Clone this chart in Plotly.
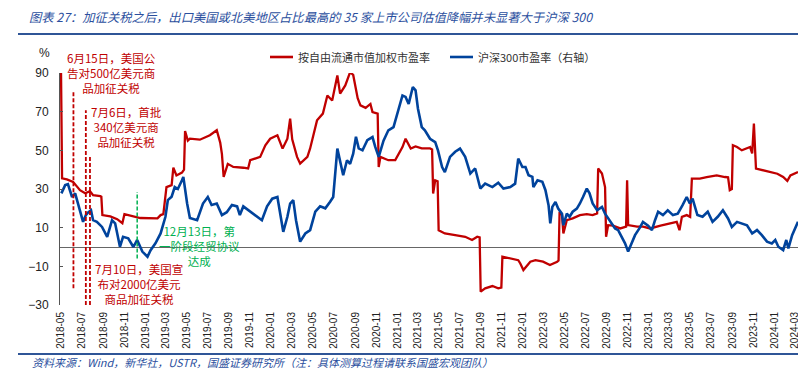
import plotly.graph_objects as go

# ---------------- data ----------------
red_dates = ["2018-05-01","2018-05-04","2018-05-18","2018-06-05","2018-06-25","2018-07-10","2018-07-24",
 "2018-08-02","2018-08-23","2018-08-26","2018-08-29","2018-09-21","2018-10-11","2018-10-26","2018-11-01",
 "2018-11-27","2018-12-17","2019-02-05","2019-02-14","2019-02-22","2019-03-03","2019-03-18","2019-03-23",
 "2019-04-01","2019-04-17","2019-04-23","2019-04-26","2019-05-04","2019-05-10","2019-06-08","2019-07-07",
 "2019-07-27","2019-08-06","2019-08-11","2019-08-16","2019-08-28","2019-09-13","2019-10-12","2019-10-26",
 "2019-11-01","2019-11-30","2019-12-15","2019-12-29","2020-01-19","2020-02-03","2020-02-17","2020-02-25",
 "2020-03-02","2020-03-16","2020-03-25","2020-04-15","2020-04-23","2020-05-13","2020-05-30","2020-06-12",
 "2020-06-26","2020-07-11","2020-07-19","2020-08-03","2020-08-17","2020-08-26","2020-09-08","2020-09-16",
 "2020-10-01","2020-10-15","2020-10-21","2020-11-05","2020-11-08","2020-11-13","2020-12-06","2020-12-26",
 "2021-01-16","2021-01-25","2021-02-09","2021-02-23","2021-03-13","2021-04-06","2021-04-12","2021-04-15",
 "2021-04-21","2021-04-28","2021-05-01","2021-05-19","2021-06-18","2021-07-17","2021-08-06","2021-08-21",
 "2021-08-28","2021-08-31","2021-09-13","2021-10-04","2021-10-21","2021-10-30","2021-11-02","2021-12-01",
 "2021-12-18","2021-12-24","2022-01-02","2022-01-22","2022-02-06","2022-02-28","2022-03-20","2022-04-10",
 "2022-04-14","2022-04-17","2022-04-24","2022-04-28","2022-05-08","2022-05-25","2022-06-15","2022-07-05",
 "2022-07-22","2022-08-04","2022-08-07","2022-08-18","2022-08-27","2022-08-30","2022-09-05","2022-09-19",
 "2022-10-10","2022-10-27","2022-10-30","2022-11-02","2022-11-28","2022-12-15","2023-01-05","2023-02-04",
 "2023-03-03","2023-03-23","2023-03-31","2023-04-07","2023-04-21","2023-05-01","2023-05-06","2023-05-29",
 "2023-06-18","2023-07-17","2023-08-10","2023-08-19","2023-08-24","2023-08-30","2023-09-02","2023-09-14",
 "2023-09-28","2023-10-13","2023-10-22","2023-10-28","2023-11-02","2023-11-08","2023-11-28","2023-12-24",
 "2024-01-09","2024-01-26","2024-02-07","2024-02-16","2024-03-09"]
red_pe = [90,35.5,35,33.7,29.4,27.8,28.9,
 26.8,26.3,26,16.5,15.8,14.4,12.3,17,
 15.9,15,14.8,16.5,17,31,32,41,
 37,38.5,40,60,55,56,55.5,57.8,
 60.4,54,48,36.2,43,41.4,41,40.6,
 44.9,46.6,52.6,56,57.8,50.9,56,66.4,
 55.7,46.6,43.2,46.6,51,65.5,69,78.4,
 75.8,88.7,79.3,83.6,90.4,89,77,73.3,
 72,74,69.8,69,41.4,46.6,44.9,45,
 51.7,56,50.9,52,51,51,50.5,27.7,
 34.5,34,8.7,7,6.1,5.3,3.6,5.3,
 5,-23.1,-21.4,-20.2,-21.4,-21,-5,-5.9,
 -6.8,-8.5,-11.9,-7.6,-6.8,-7.6,-9.3,-7.6,
 -7,18.2,16.6,7,13.9,14.8,16.5,17,
 16.5,17.4,40.6,38,31,5.3,11.3,11,
 9.6,10.5,34.5,11.3,10.5,10.5,9.6,11,
 12.2,13,8.7,15.6,16.5,15.6,35.4,35.4,
 36.2,37,36.2,36,29.4,30,52.6,51.7,
 50,51,51.7,48.4,63.8,40.6,39.7,38.8,
 37.9,36.2,34.2,37,38.8]

blue_dates = ["2018-05-02","2018-05-13","2018-05-21","2018-06-02","2018-06-11","2018-06-19","2018-07-04",
 "2018-07-12","2018-07-18","2018-07-27","2018-08-02","2018-08-13","2018-08-28","2018-09-12","2018-09-26",
 "2018-10-05","2018-10-19","2018-10-28","2018-11-12","2018-11-27","2018-12-08","2018-12-23","2019-01-07",
 "2019-01-16","2019-01-30","2019-02-14","2019-02-28","2019-03-07","2019-03-18","2019-03-27","2019-04-05",
 "2019-04-17","2019-04-21","2019-05-02","2019-05-10","2019-05-31","2019-06-17","2019-07-01","2019-07-12",
 "2019-07-27","2019-08-11","2019-08-25","2019-09-09","2019-09-24","2019-10-02","2019-10-12","2019-11-01",
 "2019-11-21","2019-12-05","2019-12-20","2020-01-04","2020-01-19","2020-01-27","2020-02-05","2020-02-17",
 "2020-02-25","2020-03-05","2020-03-13","2020-03-25","2020-04-09","2020-04-23","2020-05-08","2020-05-22",
 "2020-06-06","2020-06-20","2020-06-29","2020-07-11","2020-07-19","2020-07-28","2020-08-08","2020-08-17",
 "2020-08-26","2020-09-03","2020-09-11","2020-09-22","2020-10-06","2020-10-21","2020-10-29","2020-11-08",
 "2020-11-22","2020-12-06","2020-12-21","2021-01-04","2021-01-16","2021-01-25","2021-02-03","2021-02-15",
 "2021-02-23","2021-03-02","2021-03-13","2021-03-22","2021-04-06","2021-04-21","2021-04-29","2021-05-11",
 "2021-05-19","2021-06-03","2021-06-18","2021-07-02","2021-07-17","2021-08-01","2021-08-15","2021-08-30",
 "2021-09-13","2021-10-04","2021-10-21","2021-11-05","2021-11-25","2021-12-09","2021-12-18","2021-12-30",
 "2022-01-08","2022-01-17","2022-01-28","2022-01-31","2022-02-12","2022-02-26","2022-03-07","2022-03-16",
 "2022-03-21","2022-03-27","2022-04-05","2022-04-13","2022-04-24","2022-04-28","2022-05-08","2022-05-16",
 "2022-05-25","2022-06-06","2022-06-15","2022-06-24","2022-07-05","2022-07-13","2022-07-22","2022-08-04",
 "2022-08-18","2022-08-27","2022-09-05","2022-09-16","2022-09-25","2022-10-04","2022-10-15","2022-10-24",
 "2022-11-02","2022-11-14","2022-11-22","2022-12-06","2022-12-15","2022-12-30","2023-01-10","2023-01-19",
 "2023-01-28","2023-02-11","2023-02-25","2023-03-12","2023-03-26","2023-04-09","2023-04-21","2023-04-30",
 "2023-05-08","2023-05-22","2023-06-06","2023-06-21","2023-07-05","2023-07-20","2023-08-04","2023-08-19",
 "2023-08-30","2023-09-14","2023-09-28","2023-10-13","2023-10-28","2023-11-11","2023-11-25","2023-12-10",
 "2023-12-24","2024-01-03","2024-01-12","2024-01-26","2024-02-04","2024-02-10","2024-02-21","2024-03-01",
 "2024-03-09"]
blue_pe = [12.62,12.96,13.0,12.47,12.62,12.2,11.44,
 11.72,11.82,11.92,11.51,11.44,11.23,10.82,11.51,
 11.38,10.41,10.82,10.76,10.4,10.69,10.21,10.0,
 10.27,10.55,10.96,11.65,12.34,12.48,12.88,12.8,
 13.16,13.3,12.2,11.6,11.51,12.2,12.47,12.14,
 12.2,11.72,11.84,12.14,12.08,11.72,12.08,11.86,
 11.65,11.51,12.08,12.4,12.47,11.78,11.03,11.65,
 12.2,12.34,11.51,10.62,10.96,11.1,11.86,12.08,
 12.0,12.27,12.47,14.47,13.99,13.37,13.99,13.84,
 14.26,14.96,14.48,14.4,14.82,14.95,14.54,14.13,
 14.8,15.23,15.36,16.06,16.67,16.61,16.32,17.02,
 16.88,16.12,15.36,15.23,14.88,14.74,14.4,13.71,
 13.5,14.13,14.34,14.47,14.13,13.44,13.65,12.82,
 13.02,12.88,13.06,12.82,12.88,13.02,14.06,13.71,
 13.71,13.37,13.3,12.88,13.16,13.1,12.75,12.13,
 11.38,12.06,12.26,11.99,11.78,11.3,11.78,11.65,
 11.86,11.99,12.2,12.47,12.82,12.62,12.2,11.92,
 12.06,11.78,11.58,11.38,11.17,11.1,10.82,10.55,
 10.21,10.62,10.89,11.2,11.44,11.28,11.1,11.51,
 11.86,11.72,11.92,11.72,11.78,12.13,12.47,12.2,
 12.4,11.72,11.65,11.86,11.44,11.65,11.92,11.58,
 11.23,11.44,11.38,11.3,10.96,11.1,10.89,10.62,
 10.55,10.69,10.41,10.27,10.69,10.34,10.89,11.17,
 11.44]

tick_dates = ["2018-05-01","2018-07-01","2018-09-01","2018-11-01","2019-01-01","2019-03-01","2019-05-01",
 "2019-07-01","2019-09-01","2019-11-01","2020-01-01","2020-03-01","2020-05-01","2020-07-01","2020-09-01",
 "2020-11-01","2021-01-01","2021-03-01","2021-05-01","2021-07-01","2021-09-01","2021-11-01","2022-01-01",
 "2022-03-01","2022-05-01","2022-07-01","2022-09-01","2022-11-01","2023-01-01","2023-03-01","2023-05-01",
 "2023-07-01","2023-09-01","2023-11-01","2024-01-01","2024-03-01"]
tick_labels = [d[:7] for d in tick_dates]
y_ticks = [-30, -10, 10, 30, 50, 70, 90]

series_names = ["按自由流通市值加权市盈率", "沪深300市盈率（右轴）"]

# event markers: date, top value, bottom value
event_dates = ["2018-06-06", "2018-07-12", "2018-07-24", "2018-12-08"]
event_top = [80, 70.7, 47.5, 28.5]
event_bottom = [-21.3, -30, -30, -5.9]
event_colors = ["#C00000", "#C00000", "#C00000", "#00B050"]

event_texts = ["6月15日，美国公<br>告对500亿美元商<br>品加征关税",
               "7月6日，首批<br>340亿美元商<br>品加征关税",
               "7月10日，美国宣<br>布对2000亿美元<br>商品加征关税",
               "12月13日，第<br>一阶段经贸协议<br>达成"]
text_x = ["2018-09-24", "2018-11-07", "2018-12-14", "2019-06-06"]
text_y = [89.9, 61.9, -19.2, 0.5]
text_colors = ["#C00000", "#C00000", "#C00000", "#00B050"]

RED = "#C00000"
BLUE = "#00439C"
CJK = "Noto Sans CJK SC"
LAT = "Liberation Sans, Arial"

fig = go.Figure()
fig.add_trace(go.Scatter(x=red_dates, y=red_pe, mode="lines", name=series_names[0],
                         line=dict(color=RED, width=2.3), yaxis="y"))
fig.add_trace(go.Scatter(x=blue_dates, y=blue_pe, mode="lines", name=series_names[1],
                         line=dict(color=BLUE, width=2.6), yaxis="y2"))

for d, t, b, c in zip(event_dates, event_top, event_bottom, event_colors):
    fig.add_shape(type="line", xref="x", yref="y", x0=d, x1=d, y0=b, y1=t,
                  line=dict(color=c, width=1.8 if c == RED else 1.5, dash="4px,2px"))

for tx, xx, yy, c in zip(event_texts, text_x, text_y, text_colors):
    fig.add_annotation(x=xx, y=yy, xref="x", yref="y", text=tx, showarrow=False,
                       font=dict(family=CJK, size=11.5, color=c), align="center",
                       xanchor="center", yanchor="middle")

W, H = 798, 390
L, R, T, B = 60, 0, 73, 85
pw, ph = W - L - R, H - T - B
def px(x):
    return (x - L) / pw
def py(y):
    return (H - B - y) / ph

# header / footer rules
fig.add_shape(type="line", xref="paper", yref="paper", x0=px(18), x1=1, y0=py(34), y1=py(34),
              line=dict(color="#2F5597", width=2))
fig.add_shape(type="line", xref="paper", yref="paper", x0=px(18), x1=1, y0=py(354), y1=py(354),
              line=dict(color="#2F5597", width=2))

# legend (drawn manually so it does not push the margins)
leg_x = [270, 450]
leg_cols = [RED, BLUE]
for lx, nm, c in zip(leg_x, series_names, leg_cols):
    fig.add_shape(type="line", xref="paper", yref="paper", x0=px(lx), x1=px(lx + 23),
                  y0=py(57), y1=py(57), line=dict(color=c, width=2.6))
    fig.add_annotation(xref="paper", yref="paper", x=px(lx + 26), y=py(57), xanchor="left",
                       yanchor="middle", text=nm, showarrow=False,
                       font=dict(family=CJK, size=11, color="#333"))

fig.add_annotation(xref="paper", yref="paper", x=px(27), y=py(17), xanchor="left", yanchor="middle",
                   text="<i>图表 27：加征关税之后，出口美国或北美地区占比最高的 35 家上市公司估值降幅并未显著大于沪深 300</i>",
                   showarrow=False, font=dict(family=CJK, size=12.3, color="#2B4F9E"))
fig.add_annotation(xref="paper", yref="paper", x=px(30), y=py(362), xanchor="left", yanchor="middle",
                   text="<i>资料来源：Wind，新华社，USTR，国盛证券研究所（注：具体测算过程请联系国盛宏观团队）</i>",
                   showarrow=False, font=dict(family=CJK, size=11, color="#2B4F9E"))
fig.add_annotation(xref="paper", yref="paper", x=px(44), y=py(53), xanchor="center", yanchor="middle",
                   text="%", showarrow=False, font=dict(family=LAT, size=12, color="#222"))

fig.update_layout(
    width=W, height=H, margin=dict(l=L, r=R, t=T, b=B, autoexpand=False),
    paper_bgcolor="white", plot_bgcolor="white",
    showlegend=False,
    xaxis=dict(type="date", range=["2018-04-28", "2024-03-09"], tickmode="array",
               tickvals=tick_dates, ticktext=tick_labels, tickangle=-90, automargin=False,
               tickfont=dict(family=LAT, size=10, color="#222"), showgrid=False,
               showline=False, zeroline=False, ticks="", ticklabelstandoff=4,
               ticklabeloverflow="allow"),
    yaxis=dict(range=[-30, 90], tickmode="array", tickvals=y_ticks, showgrid=False,
               zeroline=True, zerolinecolor="#666", zerolinewidth=1, automargin=False,
               showline=True, linecolor="#555", linewidth=1, ticks="inside", ticklen=3,
               tickcolor="#555", tickfont=dict(family=LAT, size=12, color="#222"),
               ticklabelstandoff=8),
    yaxis2=dict(range=[8.0, 17.6], overlaying="y", side="right", showgrid=False, automargin=False,
                showticklabels=False, showline=False, zeroline=False, ticks=""),
)

fig.write_html("out.html", config={"displayModeBar": False},
               post_script="document.body.style.margin='0px';document.body.style.padding='0px';")
